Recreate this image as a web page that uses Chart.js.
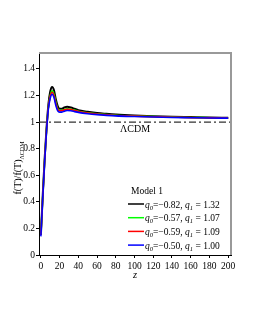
<!DOCTYPE html>
<html>
<head>
<meta charset="utf-8">
<script src="https://cdn.jsdelivr.net/npm/chart.js@4.4.1/dist/chart.umd.min.js"></script>
<style>
  html, body { margin: 0; padding: 0; background: #fff; }
  #wrap { width: 255px; height: 330px; position: relative; }
</style>
</head>
<body>
<div id="wrap"><canvas id="chart" width="255" height="330"></canvas></div>
<script>
const Z_VALUES = [0, 2, 4, 6, 8, 10, 12, 14, 16, 18, 20, 22, 25, 28, 32, 36, 40, 50, 60, 70, 80, 100, 120, 140, 160, 180, 200];

const MODEL_A = [0.15, 0.45, 0.72, 0.95, 1.13, 1.23, 1.265, 1.24, 1.17, 1.12, 1.10, 1.10, 1.11, 1.115, 1.11, 1.10, 1.09, 1.078, 1.068, 1.062, 1.057, 1.050, 1.045, 1.041, 1.038, 1.035, 1.033];
const MODEL_B = [0.15, 0.44, 0.71, 0.94, 1.11, 1.20, 1.235, 1.21, 1.15, 1.10, 1.088, 1.088, 1.095, 1.10, 1.097, 1.09, 1.082, 1.070, 1.062, 1.057, 1.052, 1.046, 1.041, 1.038, 1.035, 1.033, 1.031];
const MODEL_C = [0.15, 0.44, 0.71, 0.94, 1.11, 1.195, 1.225, 1.20, 1.14, 1.095, 1.085, 1.085, 1.092, 1.097, 1.094, 1.087, 1.080, 1.068, 1.060, 1.055, 1.050, 1.045, 1.040, 1.037, 1.034, 1.032, 1.030];
const MODEL_D = [0.14, 0.43, 0.70, 0.93, 1.10, 1.18, 1.21, 1.185, 1.125, 1.085, 1.075, 1.075, 1.082, 1.087, 1.085, 1.079, 1.073, 1.063, 1.056, 1.051, 1.047, 1.042, 1.038, 1.035, 1.033, 1.031, 1.030];

const LEGEND_ROWS = [
  { q0: '\u22120.82', q1: '1.32', color: '#000000' },
  { q0: '\u22120.57', q1: '1.07', color: '#00ff00' },
  { q0: '\u22120.59', q1: '1.09', color: '#ff0000' },
  { q0: '\u22120.50', q1: '1.00', color: '#0000ff' }
];
const SERIES = [MODEL_A, MODEL_B, MODEL_C, MODEL_D];

const X_TICKS = [0, 20, 40, 60, 80, 100, 120, 140, 160, 180, 200];
const Y_TICKS = [0, 0.2, 0.4, 0.6, 0.8, 1, 1.2, 1.4];

const SERIF = '"Liberation Serif", "DejaVu Serif", serif';

function toPoints(values) {
  return Z_VALUES.map((z, i) => ({ x: z, y: values[i] }));
}

const datasets = SERIES.map((values, i) => ({
  data: toPoints(values),
  borderColor: LEGEND_ROWS[i].color,
  borderWidth: i === 0 ? 2 : 1.6,
  pointRadius: 0,
  fill: false,
  cubicInterpolationMode: 'monotone',
  order: SERIES.length - i
}));

// reference line for LCDM
datasets.push({
  data: [{ x: -2, y: 1 }, { x: 203, y: 1 }],
  borderColor: '#333333',
  borderWidth: 1.2,
  borderDash: [7, 3, 2, 3],
  pointRadius: 0,
  order: 10
});

const extras = {
  id: 'extras',
  afterDraw(chart) {
    const { ctx, chartArea: a, scales } = chart;
    ctx.save();

    // top and right frame
    ctx.strokeStyle = '#999999';
    ctx.lineWidth = 2;
    ctx.beginPath();
    ctx.moveTo(a.left, a.top);
    ctx.lineTo(a.right, a.top);
    ctx.lineTo(a.right, a.bottom);
    ctx.stroke();

    ctx.fillStyle = '#000';
    ctx.textBaseline = 'middle';

    // LCDM label
    ctx.font = '10px ' + SERIF;
    ctx.textAlign = 'center';
    ctx.fillText('\u039BCDM', 135, scales.y.getPixelForValue(1) + 7);

    // x title
    ctx.font = 'italic 10.5px ' + SERIF;
    ctx.fillText('z', 135, 275);

    // y title, rotated
    ctx.save();
    ctx.translate(21, 168);
    ctx.rotate(-Math.PI / 2);
    ctx.textAlign = 'left';
    ctx.textBaseline = 'alphabetic';
    ctx.font = '10px ' + SERIF;
    const main = 'f(T)/f(T)';
    const mw = ctx.measureText(main).width;
    const sub = '\u039BCDM';
    ctx.font = '6px ' + SERIF;
    const sw = ctx.measureText(sub).width;
    const start = -(mw + sw) / 2;
    ctx.font = '10px ' + SERIF;
    ctx.fillText(main, start, 0);
    ctx.font = '6px ' + SERIF;
    ctx.fillText(sub, start + mw, 2.5);
    ctx.restore();

    // legend
    ctx.textAlign = 'left';
    ctx.textBaseline = 'alphabetic';
    ctx.font = '9.5px ' + SERIF;
    ctx.fillText('Model 1', 131, 194);
    LEGEND_ROWS.forEach((row, i) => {
      const y = 204 + i * 13.7;
      ctx.strokeStyle = row.color;
      ctx.lineWidth = 1.5;
      ctx.beginPath();
      ctx.moveTo(128, y);
      ctx.lineTo(144, y);
      ctx.stroke();
      let x = 145;
      const base = y + 3.5;
      const parts = [
        ['italic 9.5px ' + SERIF, 'q', 0],
        ['italic 6.5px ' + SERIF, '0', 2],
        ['9.5px ' + SERIF, '=' + row.q0 + ', ', 0],
        ['italic 9.5px ' + SERIF, 'q', 0],
        ['italic 6.5px ' + SERIF, '1', 2],
        ['9.5px ' + SERIF, ' = ' + row.q1, 0]
      ];
      parts.forEach(([font, text, dy]) => {
        ctx.font = font;
        ctx.fillText(text, x, base + dy);
        x += ctx.measureText(text).width;
      });
    });

    ctx.restore();
  }
};

new Chart(document.getElementById('chart'), {
  type: 'line',
  data: { datasets },
  options: {
    responsive: false,
    animation: false,
    layout: { padding: { left: 0, top: 53, right: 24, bottom: 0 } },
    plugins: { legend: { display: false }, tooltip: { enabled: false } },
    scales: {
      x: {
        type: 'linear',
        min: -2,
        max: 203,
        afterFit(scale) { scale.height = 75; },
        afterBuildTicks(scale) { scale.ticks = X_TICKS.map(v => ({ value: v })); },
        grid: { drawOnChartArea: false, drawTicks: true, tickLength: 3, color: '#000' },
        border: { display: true, color: '#000', width: 1 },
        ticks: { color: '#000', padding: 3, maxRotation: 0, autoSkip: false, font: { family: SERIF, size: 9.5 } }
      },
      y: {
        type: 'linear',
        min: 0,
        max: 1.52,
        afterFit(scale) { scale.width = 39; },
        afterBuildTicks(scale) { scale.ticks = Y_TICKS.map(v => ({ value: v })); },
        grid: { drawOnChartArea: false, drawTicks: true, tickLength: 3, color: '#000' },
        border: { display: true, color: '#000', width: 1 },
        ticks: { color: '#000', padding: 1, autoSkip: false, font: { family: SERIF, size: 9.5 }, callback: v => String(v) }
      }
    }
  },
  plugins: [extras]
});
</script>
</body>
</html>
